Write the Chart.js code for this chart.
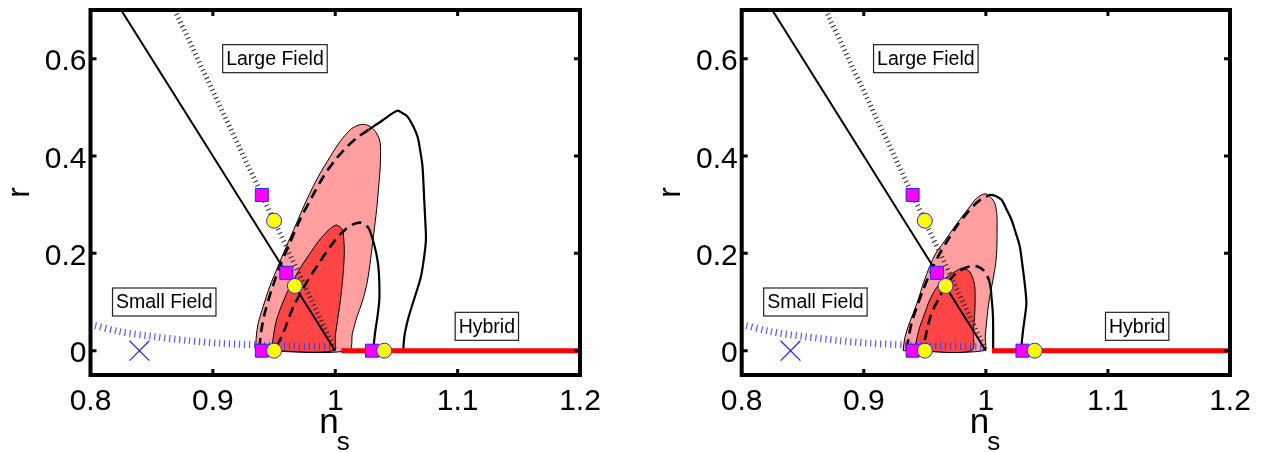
<!DOCTYPE html>
<html>
<head>
<meta charset="utf-8">
<title>r vs n_s</title>
<script src="https://cdn.jsdelivr.net/npm/chart.js@4.4.0/dist/chart.umd.min.js"></script>
<style>
  html, body { margin: 0; padding: 0; background: #fff; }
  #wrap { position: relative; width: 1261px; height: 452px; overflow: hidden; }
  canvas { position: absolute; top: 0; }
</style>
</head>
<body>
<div id="wrap">
  <canvas id="left" width="630" height="452" style="left:0"></canvas>
  <canvas id="right" width="631" height="452" style="left:630px"></canvas>
</div>
<script>
// axes
const xTicks = [0.8, 0.9, 1.0, 1.1, 1.2];
const xTickLabels = ['0.8', '0.9', '1', '1.1', '1.2'];
const yTicks = [0, 0.2, 0.4, 0.6];
const yTickLabels = ['0', '0.2', '0.4', '0.6'];
const xRange = [0.8, 1.2];
const yRange = [-0.05, 0.7];

// model lines shared by both panels, as [n_s, r]
const fieldBoundary = [[0.825, 0.7], [1.0, 0]];
const phi4Line = [[0.86875, 0.7], [1.0, 0]];
const smallFieldCurve = [[0.8, 0.054], [0.824, 0.039], [0.8516, 0.029], [0.879, 0.021],
  [0.9064, 0.015], [0.934, 0.012], [0.961, 0.0097], [0.997, 0.008]];
const hybridLine = [[1.005, 0], [1.2, 0]];
const modelSquares = [[0.94, 0.32], [0.96, 0.16], [0.94, 0], [1.03, 0]];
const modelCircles = [[0.95, 0.267], [0.967, 0.133], [0.95, 0], [1.04, 0]];
const modelCross = [[0.84, 0]];

const regionLabels = ['Large Field', 'Small Field', 'Hybrid'];
const regionLabelAt = [[0.908, 0.6], [0.818, 0.1], [1.098, 0.05]];

// left panel contours
const leftFill2s = [[0.935, 0], [0.9355, 0.03], [0.937, 0.056], [0.941, 0.09], [0.9465, 0.132],
  [0.953, 0.172], [0.96, 0.214], [0.968, 0.26], [0.9767, 0.31], [0.986, 0.357], [0.996, 0.399],
  [1.004, 0.43], [1.0123, 0.454], [1.0185, 0.463], [1.0233, 0.465], [1.029, 0.46], [1.0329, 0.45],
  [1.036, 0.435], [1.037, 0.419], [1.0368, 0.38], [1.0357, 0.344], [1.0338, 0.29], [1.0315, 0.241],
  [1.029, 0.19], [1.026, 0.139], [1.022, 0.1], [1.0178, 0.07], [1.014, 0.035], [1.011, 0], [0.935, 0]];
const leftFill1s = [[0.948, 0], [0.9495, 0.03], [0.952, 0.063], [0.957, 0.098], [0.963, 0.132],
  [0.971, 0.168], [0.9794, 0.2], [0.986, 0.224], [0.9918, 0.241], [0.997, 0.253], [1.0008, 0.258],
  [1.0045, 0.253], [1.0063, 0.245], [1.0074, 0.207], [1.0068, 0.17], [1.0055, 0.132], [1.004, 0.1],
  [1.0019, 0.063], [1.0, 0.03], [0.9986, 0], [0.948, 0]];
const leftDash2s = [[0.938, 0.005], [0.9395, 0.04], [0.9424, 0.077], [0.948, 0.125], [0.9547, 0.173],
  [0.963, 0.222], [0.9712, 0.269], [0.981, 0.316], [0.9904, 0.358], [1.0, 0.392], [1.0096, 0.419],
  [1.019, 0.44], [1.0274, 0.454]];
const leftSolid2s = [[1.0274, 0.454], [1.039, 0.474], [1.0507, 0.493], [1.055, 0.488], [1.059, 0.481],
  [1.0635, 0.462], [1.0672, 0.44], [1.0695, 0.41], [1.0713, 0.378], [1.0727, 0.31], [1.0735, 0.27],
  [1.0741, 0.228], [1.0725, 0.19], [1.07, 0.152], [1.066, 0.118], [1.0617, 0.084], [1.0585, 0.055],
  [1.0565, 0.03], [1.0555, 0]];
const leftDash1s = [[0.952, 0.01], [0.9545, 0.02], [0.9574, 0.036], [0.9615, 0.063], [0.9657, 0.09],
  [0.972, 0.12], [0.9794, 0.152], [0.9875, 0.183], [0.9959, 0.214], [1.003, 0.236], [1.0096, 0.252],
  [1.015, 0.26], [1.0206, 0.263], [1.0245, 0.259], [1.0274, 0.252]];
const leftSolid1s = [[1.0274, 0.252], [1.0305, 0.23], [1.0335, 0.2], [1.0352, 0.173], [1.036, 0.14],
  [1.036, 0.104], [1.0345, 0.07], [1.0325, 0.036], [1.031, 0]];

// right panel contours
const rightFill2s = [[0.9322, 0], [0.9335, 0.025], [0.9363, 0.049], [0.9405, 0.077], [0.9445, 0.104],
  [0.949, 0.14], [0.954, 0.173], [0.959, 0.2], [0.965, 0.221], [0.972, 0.246], [0.9786, 0.269],
  [0.986, 0.293], [0.9923, 0.313], [0.9965, 0.32], [1.0005, 0.322], [1.004, 0.315], [1.0073, 0.303],
  [1.009, 0.28], [1.0092, 0.248], [1.009, 0.21], [1.0081, 0.18], [1.0058, 0.145], [1.0032, 0.111],
  [1.0015, 0.08], [1.0005, 0.056], [0.9995, 0.03], [0.9983, 0], [0.9322, 0]];
const rightFill1s = [[0.9418, 0], [0.9435, 0.025], [0.9459, 0.049], [0.95, 0.077], [0.954, 0.104],
  [0.959, 0.127], [0.965, 0.145], [0.9745, 0.162], [0.98, 0.169], [0.984, 0.167], [0.9868, 0.162],
  [0.9895, 0.148], [0.9909, 0.132], [0.9912, 0.1], [0.9909, 0.077], [0.9898, 0.04], [0.9882, 0],
  [0.9418, 0]];
const rightDash2s = [[0.935, 0.003], [0.937, 0.03], [0.9391, 0.056], [0.9435, 0.09], [0.9486, 0.125],
  [0.955, 0.163], [0.9623, 0.2], [0.969, 0.228], [0.9759, 0.255], [0.983, 0.278], [0.9909, 0.3],
  [0.9965, 0.312], [1.0018, 0.318]];
const rightSolid2s = [[1.0018, 0.318], [1.0032, 0.32], [1.008, 0.318], [1.0128, 0.31], [1.017, 0.29],
  [1.021, 0.269], [1.0245, 0.242], [1.0278, 0.214], [1.03, 0.175], [1.0318, 0.139], [1.0332, 0.098],
  [1.032, 0.07], [1.0305, 0.042], [1.0291, 0.008], [1.029, 0]];
const rightDash1s = [[0.95, 0.022], [0.9525, 0.05], [0.9555, 0.077], [0.961, 0.105], [0.9664, 0.132],
  [0.972, 0.15], [0.9773, 0.162], [0.983, 0.17], [0.9895, 0.174], [0.994, 0.172], [0.9977, 0.166],
  [1.0005, 0.157], [1.0026, 0.145]];
const rightSolid1s = [[1.0026, 0.145], [1.004, 0.128], [1.0046, 0.111], [1.0055, 0.085],
  [1.0059, 0.063], [1.006, 0.03], [1.006, 0]];

const FONT = '"Liberation Sans", Arial, Helvetica, sans-serif';
const PINK = '#ff9f9f';
const RED = '#ff4545';

const pts = arr => arr.map(([x, y]) => ({ x, y }));

const line = (data, style) => Object.assign({
  type: 'line', data: pts(data), pointRadius: 0, fill: false, clip: 0,
  borderColor: '#000', borderWidth: 2, tension: 0,
}, style);

const marker = (data, pointStyle, radius, bg, width = 1) => ({
  type: 'line', data: pts(data), showLine: false, pointStyle, pointRadius: radius,
  pointBackgroundColor: bg, pointBorderColor: '#2424ff', pointBorderWidth: width, clip: false,
});

// frame, inward ticks, tick labels, region boxes and axis titles
const decorPlugin = {
  id: 'decor',
  afterDatasetsDraw(chart) {
    const { ctx, chartArea: a, scales: { x, y } } = chart;
    ctx.save();
    ctx.font = '19.5px ' + FONT;
    ctx.textBaseline = 'middle';
    ctx.textAlign = 'left';
    regionLabels.forEach((txt, i) => {
      const [nx, ry] = regionLabelAt[i];
      const px = x.getPixelForValue(nx);
      const py = y.getPixelForValue(ry);
      const w = ctx.measureText(txt).width + 7;
      ctx.fillStyle = '#fff';
      ctx.fillRect(px, py - 14, w, 28);
      ctx.strokeStyle = '#222';
      ctx.lineWidth = 1.2;
      ctx.strokeRect(px, py - 14, w, 28);
      ctx.fillStyle = '#000';
      ctx.fillText(txt, px + 3.5, py + 1);
    });

    ctx.strokeStyle = '#000';
    ctx.lineWidth = 3;
    ctx.beginPath();
    xTicks.slice(1, -1).forEach(v => {
      const px = x.getPixelForValue(v);
      ctx.moveTo(px, a.bottom); ctx.lineTo(px, a.bottom - 6);
      ctx.moveTo(px, a.top); ctx.lineTo(px, a.top + 6);
    });
    yTicks.forEach(v => {
      const py = y.getPixelForValue(v);
      ctx.moveTo(a.left, py); ctx.lineTo(a.left + 6, py);
      ctx.moveTo(a.right, py); ctx.lineTo(a.right - 6, py);
    });
    ctx.stroke();

    ctx.lineWidth = 4;
    ctx.strokeRect(a.left, a.top, a.right - a.left, a.bottom - a.top);

    // tick labels
    ctx.fillStyle = '#000';
    ctx.font = '30px ' + FONT;
    ctx.textBaseline = 'alphabetic';
    ctx.textAlign = 'center';
    xTicks.forEach((v, i) => ctx.fillText(xTickLabels[i], x.getPixelForValue(v), a.bottom + 34.5));
    ctx.textAlign = 'right';
    yTicks.forEach((v, i) => ctx.fillText(yTickLabels[i], a.left - 4, y.getPixelForValue(v) + 11.5));

    ctx.textAlign = 'center';
    ctx.save();
    ctx.translate(a.left - 62, (a.top + a.bottom) / 2);
    ctx.rotate(-Math.PI / 2);
    ctx.font = '32px ' + FONT;
    ctx.fillText('r', 0, 0);
    ctx.restore();

    const cx = (a.left + a.right) / 2;
    ctx.textAlign = 'left';
    ctx.font = '35px ' + FONT;
    ctx.fillText('n', cx - 16, 433);
    ctx.font = '26px ' + FONT;
    ctx.fillText('s', cx + 1.5, 450);
    ctx.restore();
  },
};

function createPanel(canvasId, c, yWidth, padRight) {
  // listed bottom to top
  const datasets = [
    line(c.fill2s, { fill: 'shape', backgroundColor: PINK, borderWidth: 1, tension: 0.3 }),
    line(c.fill1s, { fill: 'shape', backgroundColor: RED, borderWidth: 1, tension: 0.3 }),
    line(c.dash2s, { borderDash: [10, 6], borderWidth: 2.6, tension: 0.3 }),
    line(c.solid2s, { borderWidth: 2.2, tension: 0.3 }),
    line(c.dash1s, { borderDash: [10, 6], borderWidth: 2.6, tension: 0.3 }),
    line(c.solid1s, { borderWidth: 2.2, tension: 0.3 }),
    line(smallFieldCurve, { borderColor: 'rgba(50,50,255,0.8)', borderWidth: 7, borderDash: [1.2, 3.8], tension: 0.3 }),
    line(phi4Line, { borderColor: '#222', borderWidth: 5, borderDash: [1, 3.4] }),
    line(fieldBoundary, { borderWidth: 2 }),
    line(hybridLine, { borderColor: '#ff0000', borderWidth: 5 }),
    marker(modelCross, 'crossRot', 14, '#2424ff', 1.2),
    marker(modelSquares, 'rect', 9.2, '#ff00ff'),
    marker(modelCircles, 'circle', 7.5, '#ffff00'),
  ];
  datasets.forEach((d, i) => { d.order = datasets.length - i; });

  return new Chart(document.getElementById(canvasId), {
    type: 'line',
    data: { datasets },
    options: {
      responsive: false,
      animation: false,
      events: [],
      layout: { autoPadding: false, padding: { left: 0, right: padRight, top: 10, bottom: 0 } },
      plugins: { legend: { display: false }, tooltip: { enabled: false } },
      scales: {
        x: {
          type: 'linear', min: xRange[0], max: xRange[1],
          grid: { display: false, drawTicks: false },
          border: { display: false },
          ticks: { display: false },
          afterFit: s => { s.height = 77; },
        },
        y: {
          type: 'linear', min: yRange[0], max: yRange[1],
          grid: { display: false, drawTicks: false },
          border: { display: false },
          ticks: { display: false },
          afterFit: s => { s.width = yWidth; },
        },
      },
    },
    plugins: [decorPlugin],
  });
}

createPanel('left', {
  fill2s: leftFill2s, fill1s: leftFill1s, dash2s: leftDash2s,
  solid2s: leftSolid2s, dash1s: leftDash1s, solid1s: leftSolid1s,
}, 90.5, 50);

createPanel('right', {
  fill2s: rightFill2s, fill1s: rightFill1s, dash2s: rightDash2s,
  solid2s: rightSolid2s, dash1s: rightDash1s, solid1s: rightSolid1s,
}, 111.7, 31);
</script>
</body>
</html>
